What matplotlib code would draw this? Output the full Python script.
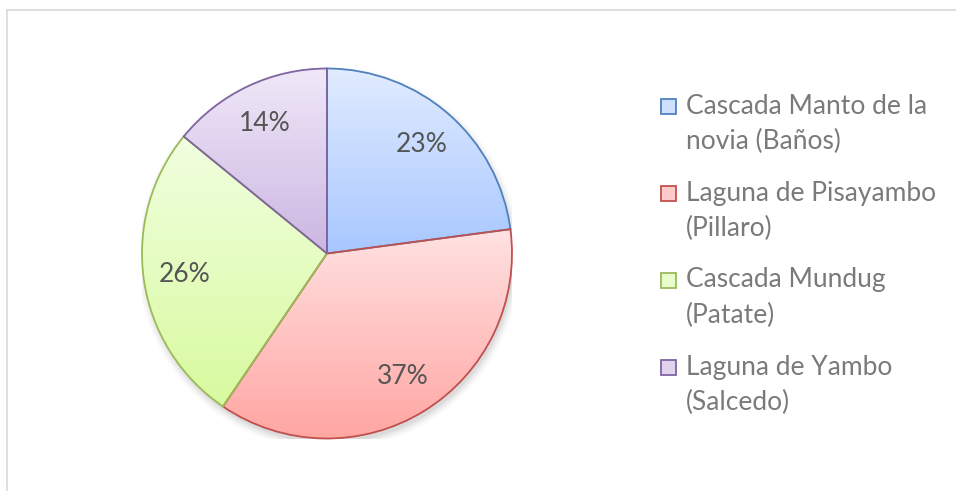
import numpy as np
import matplotlib
matplotlib.use('Agg')
import matplotlib.pyplot as plt
from matplotlib.patches import Rectangle, Circle
from matplotlib.colors import to_rgba

# data
labels = ['Cascada Manto de la\nnovia (Baños)', 'Laguna de Pisayambo\n(Pillaro)',
          'Cascada Mundug\n(Patate)', 'Laguna de Yambo\n(Salcedo)']
shares = [22.9, 36.6, 26.4, 14.1]

edge_cols = ['#4F81BD', '#C0504D', '#9BBB59', '#8064A2']
top_cols = ['#E1ECFF', '#FFE2E2', '#F1FFE0', '#F0E8F8']
bot_cols = ['#A8C7FF', '#FFA6A3', '#D8FA9E', '#CBB6E2']
mark_cols = ['#CFE0FF', '#FFCBCA', '#E9FCCB', '#E0D3EE']

plt.rcParams['font.family'] = ['Lato', 'DejaVu Sans']

W, H = 956, 491
fig = plt.figure(figsize=(W / 100, H / 100), dpi=100)

# chart area border (only top and left visible)
fig.add_artist(plt.Line2D([6.5 / W, 6.5 / W], [0, 1 - 9.5 / H], color='#D9D9D9', lw=1.2))
fig.add_artist(plt.Line2D([6.5 / W, 1], [1 - 9.5 / H, 1 - 9.5 / H], color='#D9D9D9', lw=1.2))

R = 185
cx, cy = 327, 491 - 253.5
ax = fig.add_axes([(cx - R) / W, (cy - R) / H, 2 * R / W, 2 * R / H])
ax.set_axis_off()

# soft shadow under the pie
for i, a in enumerate([0.05, 0.04, 0.03, 0.02]):
    ax.add_patch(Circle((0.01, -0.025), 1.0 + 0.012 * i, color='k', alpha=a, lw=0, zorder=0))

wedges, texts, autotexts = ax.pie(
    shares, startangle=90, counterclock=False, radius=1,
    autopct='%.0f%%', pctdistance=0.78,
    wedgeprops=dict(linewidth=1.3, zorder=3),
    textprops=dict(fontsize=19, color='#555555'))

for w, ec, tc, bc in zip(wedges, edge_cols, top_cols, bot_cols):
    w.set_facecolor('none')
    w.set_edgecolor(ec)
    w.set_clip_on(False)
    ang = np.radians(np.linspace(w.theta1, w.theta2, 200))
    xs = np.concatenate([[0], np.cos(ang)])
    ys = np.concatenate([[0], np.sin(ang)])
    t = np.linspace(0, 1, 256)[:, None]
    grad = (1 - t) * np.array(to_rgba(tc)) + t * np.array(to_rgba(bc))
    im = ax.imshow(grad[:, None, :], extent=[xs.min(), xs.max(), ys.min(), ys.max()],
                   origin='upper', aspect='auto', zorder=2)
    im.set_clip_path(w)

for t in autotexts:
    t.set_zorder(5)

ax.set_xlim(-1, 1)
ax.set_ylim(-1, 1)

# legend drawn by hand so the marker sits on the first line
ly0 = 106
for i, (lab, ec, mc) in enumerate(zip(labels, edge_cols, mark_cols)):
    y = ly0 + 87 * i
    fig.add_artist(Rectangle((661 / W, 1 - (y + 8) / H), 15 / W, 15 / H,
                             facecolor=mc, edgecolor=ec, lw=1.3))
    first, second = lab.split('\n')
    fig.text(686 / W, 1 - y / H, first, fontsize=19, color='#7A7A7A', va='center', ha='left')
    fig.text(686 / W, 1 - (y + 35) / H, second, fontsize=19, color='#7A7A7A', va='center', ha='left')

fig.savefig('out.png', dpi=100)
